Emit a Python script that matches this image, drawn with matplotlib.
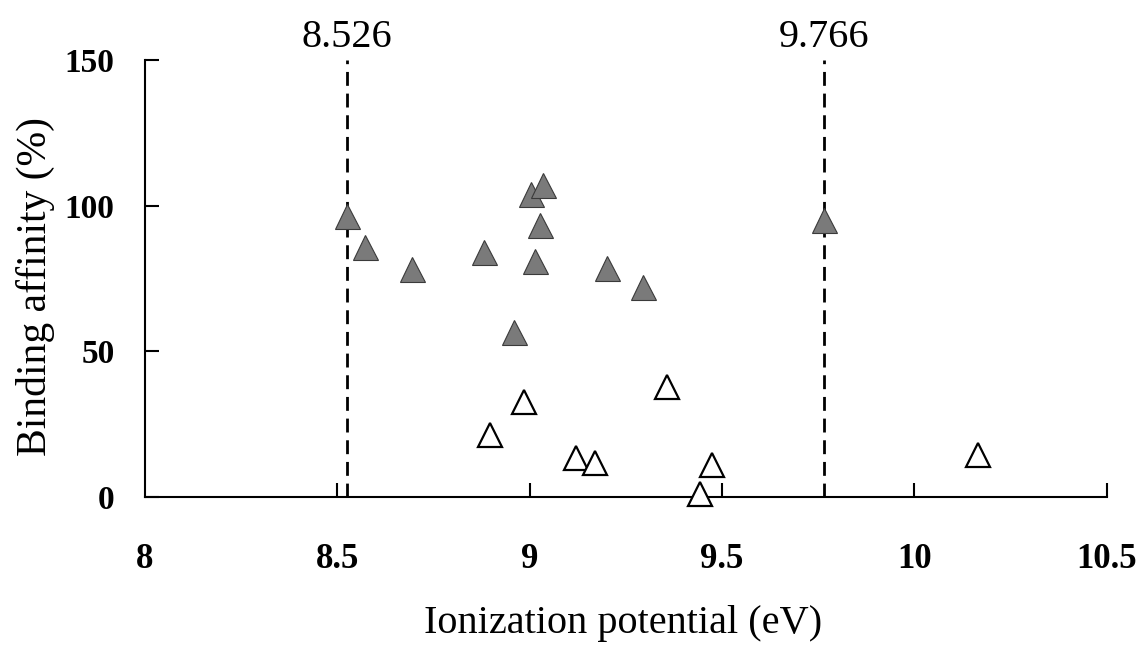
import matplotlib
matplotlib.use("Agg")
import matplotlib.pyplot as plt

# Data
active_x = [8.526, 8.571, 8.694, 8.880, 9.003, 9.034, 9.028, 9.015, 8.959, 9.201, 9.295, 9.766]
active_y = [96.3, 85.8, 78.3, 84.2, 104.0, 107.2, 93.3, 81.0, 56.5, 78.6, 72.0, 95.1]
inactive_x = [8.897, 8.984, 9.120, 9.170, 9.356, 9.474, 9.444, 10.166]
inactive_y = [21.2, 32.6, 13.2, 11.5, 37.7, 10.8, 0.9, 14.2]
thresholds = [8.526, 9.766]
threshold_labels = ["8.526", "9.766"]
x_ticks = [8, 8.5, 9, 9.5, 10, 10.5]
x_ticklabels = ["8", "8.5", "9", "9.5", "10", "10.5"]
y_ticks = [0, 50, 100, 150]
y_ticklabels = ["0", "50", "100", "150"]

plt.rcParams['font.family'] = ['Liberation Serif', 'DejaVu Serif']

fig = plt.figure(figsize=(11.43, 6.5), dpi=100)
ax = fig.add_axes([0.1269, 0.2358, 0.9682 - 0.1269, 0.9077 - 0.2358])

for t, lab in zip(thresholds, threshold_labels):
    ax.plot([t, t], [0, 150], color='black', lw=2, linestyle=(0, (5, 2.8)), zorder=1)
    ax.text(t, 154.5, lab, ha='center', va='baseline', fontsize=29, clip_on=False)

ax.plot(active_x, active_y, linestyle='none', marker='^', markersize=18,
        markerfacecolor='#7a7a7a', markeredgecolor='#3a3a3a', markeredgewidth=0.8,
        zorder=3, clip_on=False)
ax.plot(inactive_x, inactive_y, linestyle='none', marker='^', markersize=17,
        markerfacecolor='white', markeredgecolor='black', markeredgewidth=1.6,
        zorder=3, clip_on=False)

ax.set_xlim(8, 10.5)
ax.set_ylim(0, 150)
ax.spines['top'].set_visible(False)
ax.spines['right'].set_visible(False)
ax.spines['left'].set_linewidth(1.5)
ax.spines['bottom'].set_linewidth(1.5)

ax.set_xticks(x_ticks)
ax.set_xticklabels(x_ticklabels, fontsize=25, fontweight='bold')
ax.set_yticks(y_ticks)
ax.set_yticklabels(y_ticklabels, fontsize=24, fontweight='bold')
ax.tick_params(axis='both', direction='in', length=10, width=1.5)
ax.tick_params(axis='x', pad=33)
ax.tick_params(axis='y', pad=22)
# no visible tick at x=8 (coincides with the y axis)
ax.xaxis.get_major_ticks()[0].tick1line.set_visible(False)

ax.set_xlabel("Ionization potential (eV)", fontsize=29, va='baseline')
ax.xaxis.set_label_coords(0.4975, -0.312)
ax.set_ylabel("Binding affinity (%)", fontsize=30, va='center')
ax.yaxis.set_label_coords(-0.114, 0.481)

fig.savefig("out.png", dpi=100)
